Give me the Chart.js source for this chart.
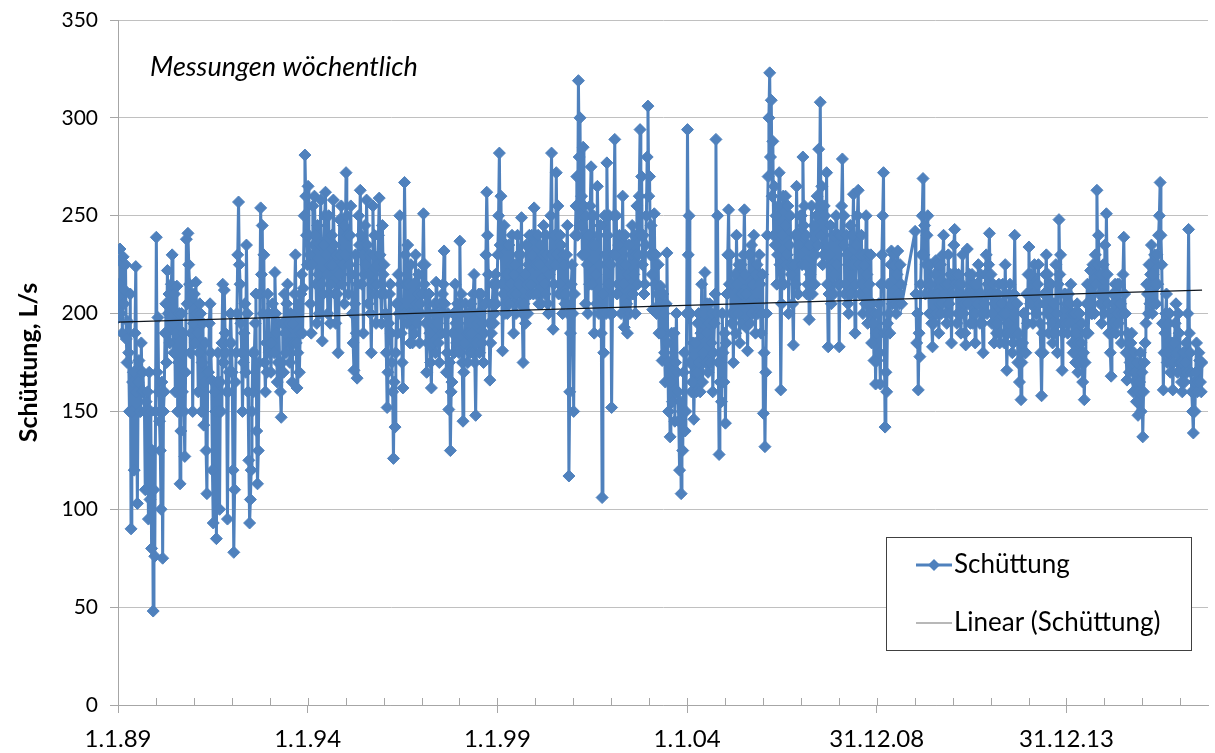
<!DOCTYPE html>
<html>
<head>
<meta charset="utf-8">
<script src="https://cdn.jsdelivr.net/npm/chart.js@4.4.0/dist/chart.umd.min.js"></script>
<style>
  html, body { margin: 0; padding: 0; background: #fff; }
  #wrap { width: 1215px; height: 753px; }
</style>
</head>
<body>
<div id="wrap"><canvas id="myChart" width="1215" height="753"></canvas></div>
<script>
// Schüttung in L/s, one value per week (48 per year)
const firstYear = 1989;
const samplesPerYear = 48;

const flow1989 = [198, 215, 233, 200, 226, 190, 229, 205, 212, 225, 187, 175, 196, 180, 150, 210, 90, 150, 165, 170, 120, 190, 224, 160, 103, 165, 176, 150, 150, 185, 160, 170, 160, 150, 110, 155, 150, 160, 95, 170, 105, 150, 80, 130, 48, 110, 76, 150];
const flow1990 = [239, 170, 198, 160, 145, 130, 100, 165, 75, 150, 160, 190, 205, 175, 222, 200, 210, 185, 198, 215, 230, 195, 180, 210, 160, 190, 214, 150, 175, 200, 113, 140, 200, 160, 190, 150, 127, 170, 238, 205, 241, 225, 215, 180, 190, 210, 150, 195];
const flow1991 = [210, 185, 216, 200, 190, 160, 180, 205, 200, 150, 175, 195, 143, 165, 185, 130, 108, 170, 170, 195, 205, 180, 166, 120, 93, 165, 160, 150, 85, 165, 180, 150, 100, 165, 150, 185, 215, 175, 212, 190, 180, 160, 95, 160, 170, 185, 200, 185];
const flow1992 = [170, 120, 78, 110, 165, 180, 200, 230, 257, 225, 215, 195, 180, 150, 175, 190, 205, 170, 235, 200, 160, 125, 93, 105, 120, 150, 180, 160, 180, 195, 210, 140, 113, 130, 175, 210, 254, 220, 245, 200, 230, 175, 160, 185, 170, 210, 200, 180];
const flow1993 = [185, 170, 185, 205, 200, 180, 221, 200, 190, 165, 175, 195, 175, 160, 147, 175, 195, 170, 210, 190, 180, 205, 215, 185, 195, 175, 200, 185, 165, 195, 185, 210, 230, 185, 162, 180, 205, 170, 190, 210, 220, 190, 213, 250, 281, 260, 240, 225];
const flow1994 = [265, 240, 230, 205, 190, 225, 255, 235, 260, 240, 215, 195, 245, 220, 200, 235, 258, 215, 186, 210, 235, 250, 262, 230, 220, 200, 250, 225, 195, 215, 240, 225, 258, 235, 210, 195, 230, 210, 180, 220, 248, 230, 255, 215, 225, 245, 205, 230];
const flow1995 = [272, 250, 240, 210, 225, 240, 255, 220, 200, 185, 171, 205, 230, 190, 167, 215, 250, 235, 263, 240, 215, 230, 190, 220, 245, 225, 258, 235, 205, 220, 230, 200, 180, 215, 255, 230, 240, 210, 195, 215, 225, 240, 259, 230, 210, 195, 245, 220];
const flow1996 = [225, 210, 200, 180, 152, 170, 195, 210, 215, 190, 175, 160, 126, 165, 142, 180, 205, 190, 220, 200, 250, 215, 190, 175, 162, 200, 267, 230, 215, 195, 235, 215, 200, 185, 225, 200, 185, 215, 210, 190, 230, 205, 195, 210, 220, 185, 205, 200];
const flow1997 = [210, 225, 251, 215, 225, 195, 170, 185, 200, 210, 190, 175, 162, 195, 185, 200, 205, 180, 216, 200, 195, 185, 175, 205, 200, 190, 210, 215, 232, 205, 190, 170, 180, 200, 151, 175, 130, 160, 165, 190, 200, 180, 215, 195, 185, 205, 195, 180];
const flow1998 = [237, 200, 210, 175, 145, 170, 185, 205, 200, 190, 175, 200, 190, 180, 205, 190, 180, 210, 220, 175, 148, 185, 195, 200, 210, 180, 200, 210, 185, 195, 175, 190, 205, 230, 262, 240, 220, 195, 166, 185, 190, 205, 215, 195, 200, 220, 205, 215];
const flow1999 = [230, 250, 282, 235, 260, 215, 181, 210, 245, 200, 220, 235, 200, 220, 235, 205, 215, 225, 240, 210, 190, 220, 225, 200, 210, 240, 230, 215, 205, 230, 249, 200, 175, 205, 220, 195, 235, 215, 200, 225, 240, 210, 215, 240, 230, 210, 254, 225];
const flow2000 = [240, 210, 225, 240, 205, 225, 235, 205, 218, 230, 245, 215, 210, 240, 230, 205, 200, 220, 225, 250, 282, 230, 192, 215, 240, 225, 272, 230, 255, 210, 215, 240, 235, 210, 200, 230, 225, 205, 210, 230, 245, 200, 117, 160, 190, 215, 225, 200];
const flow2001 = [150, 210, 240, 255, 270, 240, 319, 280, 300, 245, 260, 230, 285, 255, 230, 205, 250, 225, 200, 240, 215, 255, 275, 215, 235, 250, 190, 235, 220, 205, 265, 240, 200, 225, 245, 190, 106, 210, 180, 250, 230, 200, 277, 240, 215, 250, 200, 225];
const flow2002 = [152, 200, 230, 250, 289, 230, 250, 210, 215, 235, 240, 215, 200, 225, 260, 215, 193, 240, 225, 205, 190, 220, 235, 200, 210, 230, 245, 210, 220, 240, 200, 230, 255, 215, 230, 260, 294, 240, 270, 225, 240, 210, 215, 235, 250, 280, 306, 260];
const flow2003 = [270, 230, 245, 220, 202, 230, 251, 215, 230, 200, 210, 225, 190, 205, 214, 190, 176, 210, 200, 180, 165, 205, 231, 185, 150, 175, 137, 165, 190, 155, 170, 190, 145, 175, 200, 170, 160, 145, 120, 155, 108, 150, 130, 170, 180, 140, 150, 200];
const flow2004 = [294, 230, 250, 175, 200, 160, 165, 185, 146, 170, 185, 160, 170, 195, 200, 175, 160, 190, 215, 165, 180, 200, 221, 175, 190, 205, 170, 195, 205, 175, 185, 200, 160, 180, 195, 210, 289, 200, 250, 175, 128, 165, 180, 155, 200, 180, 165, 190];
const flow2005 = [144, 185, 210, 230, 253, 215, 230, 200, 195, 215, 175, 200, 220, 190, 240, 215, 200, 225, 185, 210, 225, 195, 210, 230, 253, 220, 193, 210, 181, 205, 230, 195, 215, 235, 200, 215, 240, 205, 190, 220, 225, 200, 205, 230, 215, 190, 200, 220];
const flow2006 = [149, 180, 132, 170, 200, 240, 270, 300, 323, 280, 309, 260, 288, 240, 265, 235, 250, 215, 230, 255, 272, 225, 161, 205, 240, 260, 215, 245, 260, 225, 230, 255, 200, 235, 250, 220, 225, 205, 184, 225, 240, 215, 265, 240, 210, 235, 230, 250];
const flow2007 = [250, 225, 280, 245, 255, 225, 240, 210, 215, 235, 197, 220, 235, 255, 210, 230, 245, 215, 230, 250, 260, 235, 284, 255, 308, 240, 265, 225, 230, 255, 250, 230, 272, 215, 183, 210, 230, 245, 205, 225, 240, 210, 220, 240, 250, 225, 215, 240];
const flow2008 = [183, 215, 240, 255, 279, 235, 250, 210, 215, 240, 230, 205, 200, 225, 245, 210, 225, 240, 261, 225, 190, 215, 235, 250, 263, 225, 210, 230, 240, 215, 200, 230, 225, 205, 250, 220, 195, 230, 215, 200, 230, 185, 205, 195, 176, 200, 164, 190];
const flow2009 = [176, 200, 205, 180, 164, 215, 230, 250, 272, 190, 142, 170, 160, 195, 215, 200, 190, 225, 232, 205, 210, 230, 225, 205, 200, 220, 232, 210, 205, 225, 215, 205,
  null, null, null, null, null, null, null, null, null, null, null, null, null, null, null, null];
const flow2010 = [242, 210, 185, 200, 161, 190, 178, 215, 230, 250, 269, 230, 245, 210, 225, 240, 250, 215, 200, 225, 215, 195, 183, 210, 195, 220, 227, 200, 210, 225, 190, 205, 225, 200, 205, 230, 240, 210, 215, 200, 195, 215, 230, 205, 200, 220, 185, 210];
const flow2011 = [220, 235, 243, 215, 220, 195, 200, 220, 215, 200, 190, 215, 230, 200, 205, 190, 184, 210, 233, 205, 210, 220, 195, 210, 220, 195, 200, 215, 185, 200, 215, 205, 225, 210, 195, 220, 210, 195, 180, 200, 205, 220, 230, 200, 215, 225, 241, 210];
const flow2012 = [220, 195, 200, 215, 185, 205, 210, 190, 195, 210, 215, 185, 190, 205, 205, 215, 200, 185, 225, 200, 171, 190, 195, 210, 215, 190, 205, 180, 185, 210, 240, 200, 190, 205, 175, 190, 165, 185, 156, 175, 185, 200, 200, 180, 180, 210, 195, 220];
const flow2013 = [234, 210, 205, 220, 210, 195, 210, 225, 215, 200, 200, 215, 225, 205, 195, 180, 158, 190, 180, 210, 205, 220, 230, 200, 220, 190, 200, 215, 215, 195, 185, 205, 205, 190, 225, 200, 180, 215, 248, 220, 230, 195, 171, 190, 195, 210, 210, 195];
const flow2014 = [205, 190, 210, 195, 205, 215, 200, 185, 180, 200, 200, 175, 190, 205, 170, 185, 200, 175, 185, 195, 165, 180, 156, 175, 190, 205, 215, 190, 205, 215, 222, 200, 200, 225, 215, 200, 230, 215, 263, 225, 240, 210, 205, 220, 195, 210, 225, 200];
const flow2015 = [235, 210, 251, 220, 205, 190, 200, 180, 168, 190, 210, 195, 205, 215, 190, 200, 215, 195, 215, 205, 205, 185, 200, 220, 239, 210, 200, 180, 166, 190, 185, 170, 175, 185, 190, 175, 160, 180, 170, 165, 155, 175, 148, 160, 165, 180, 150, 170];
const flow2016 = [137, 160, 175, 185, 195, 215, 210, 200, 225, 205, 220, 235, 200, 220, 205, 230, 215, 205, 230, 215, 240, 250, 267, 240, 225, 195, 161, 180, 190, 200, 210, 175, 180, 195, 200, 170, 175, 185, 161, 175, 185, 195, 205, 180, 170, 200, 190, 175];
const flow2017 = [175, 165, 160, 180, 180, 165, 175, 185, 170, 200, 243, 190, 180, 170, 160, 150, 139, 165, 150, 170, 185, 160, 165, 180, 176, 165, 160, 175];

const flowByYear = [
  flow1989, flow1990, flow1991, flow1992, flow1993, flow1994, flow1995, flow1996,
  flow1997, flow1998, flow1999, flow2000, flow2001, flow2002, flow2003, flow2004,
  flow2005, flow2006, flow2007, flow2008, flow2009, flow2010, flow2011, flow2012,
  flow2013, flow2014, flow2015, flow2016, flow2017,
];

// years after 1.1.89 where the axis has a label
const xTickYears = [0, 5, 10, 15, 20, 25];
const xTickLabels = ["1.1.89", "1.1.94", "1.1.99", "1.1.04", "31.12.08", "31.12.13"];

const seriesName = "Schüttung";
const trendName = "Linear (Schüttung)";
const noteText = "Messungen wöchentlich";
const yTitle = "Schüttung, L/s";

const blue = "#4F81BD";
const axisGray = "#a6a6a6";
const gridGray = "#c0c0c0";

function buildPoints() {
  let points = [];
  flowByYear.forEach((values, k) => {
    values.forEach((v, i) => {
      points.push({ x: k + (i + 0.5) / samplesPerYear, y: v });
    });
  });
  return points;
}

// least squares line, like the Excel trendline
function linearFit(points) {
  let valid = points.filter((p) => p.y !== null);
  let n = valid.length, sx = 0, sy = 0, sxx = 0, sxy = 0;
  valid.forEach((p) => {
    sx += p.x; sy += p.y; sxx += p.x * p.x; sxy += p.x * p.y;
  });
  let slope = (n * sxy - sx * sy) / (n * sxx - sx * sx);
  let icpt = (sy - slope * sx) / n;
  let x0 = valid[0].x;
  let x1 = valid[valid.length - 1].x;
  return [{ x: x0, y: icpt + slope * x0 }, { x: x1, y: icpt + slope * x1 }];
}

const extrasPlugin = {
  id: "extras",
  afterDraw(chart) {
    const ctx = chart.ctx;
    const area = chart.chartArea;
    const xScale = chart.scales.x;
    ctx.save();

    // small ticks inside the plot for every year
    ctx.strokeStyle = axisGray;
    ctx.lineWidth = 1;
    for (let yr = 0; yr <= Math.floor(xScale.max); yr++) {
      let px = Math.round(xScale.getPixelForValue(yr)) + 0.5;
      ctx.beginPath();
      ctx.moveTo(px, area.bottom);
      ctx.lineTo(px, area.bottom - 7);
      ctx.stroke();
    }

    // note top left
    ctx.fillStyle = "#000";
    ctx.textBaseline = "middle";
    ctx.font = "italic 27px Lato";
    ctx.fillText(noteText, area.left + 32, area.top + 47);

    // legend box
    let left = area.right - 322;
    let top = area.bottom - 168;
    ctx.fillStyle = "#fff";
    ctx.fillRect(left, top, 305, 113);
    ctx.strokeStyle = "#404040";
    ctx.strokeRect(left + 0.5, top + 0.5, 305, 113);

    let row1 = top + 28;
    let row2 = top + 86;
    ctx.strokeStyle = blue;
    ctx.lineWidth = 3;
    ctx.beginPath();
    ctx.moveTo(left + 30, row1);
    ctx.lineTo(left + 66, row1);
    ctx.stroke();
    ctx.fillStyle = blue;
    ctx.beginPath();
    ctx.moveTo(left + 48, row1 - 6);
    ctx.lineTo(left + 54, row1);
    ctx.lineTo(left + 48, row1 + 6);
    ctx.lineTo(left + 42, row1);
    ctx.closePath();
    ctx.fill();

    ctx.strokeStyle = "#a0a0a0";
    ctx.lineWidth = 1.5;
    ctx.beginPath();
    ctx.moveTo(left + 30, row2);
    ctx.lineTo(left + 66, row2);
    ctx.stroke();

    ctx.fillStyle = "#000";
    ctx.font = "26px Lato";
    ctx.fillText(seriesName, left + 68, row1);
    ctx.fillText(trendName, left + 68, row2);

    ctx.restore();
  },
};

const points = buildPoints();
const trend = linearFit(points);

const chart = new Chart(document.getElementById("myChart"), {
  type: "line",
  data: {
    datasets: [
      {
        label: trendName,
        data: trend,
        borderColor: "#111820",
        borderWidth: 1.2,
        pointRadius: 0,
        order: 0,
      },
      {
        label: seriesName,
        data: points,
        borderColor: blue,
        backgroundColor: blue,
        borderWidth: 3,
        pointStyle: "rectRot",
        pointRadius: 6,
        pointBorderWidth: 1,
        pointHoverRadius: 6,
        spanGaps: true,
        tension: 0,
        order: 1,
      },
    ],
  },
  options: {
    responsive: false,
    animation: false,
    events: [],
    layout: { padding: { top: 20, right: 3, bottom: 0, left: 0 } },
    plugins: {
      legend: { display: false },
      tooltip: { enabled: false },
    },
    scales: {
      x: {
        type: "linear",
        min: 0,
        max: 28.73,
        afterFit: (scale) => { scale.height = 48; },
        ticks: {
          stepSize: 1,
          autoSkip: false,
          maxRotation: 0,
          includeBounds: false,
          padding: 12,
          color: "#000",
          font: { family: "Lato", size: 24 },
          callback: (v) => {
            let idx = xTickYears.indexOf(v);
            return idx >= 0 ? xTickLabels[idx] : "";
          },
        },
        grid: {
          drawOnChartArea: false,
          tickLength: 8,
          tickColor: (c) => (xTickYears.includes(c.tick.value) ? axisGray : "transparent"),
        },
        border: { color: axisGray },
      },
      y: {
        min: 0,
        max: 350,
        afterFit: (scale) => {
          scale.width = 118;
          scale.paddingTop = 0;
          scale.paddingBottom = 0;
        },
        ticks: {
          stepSize: 50,
          padding: 12,
          color: "#000",
          font: { family: "Lato", size: 21 },
        },
        grid: {
          color: gridGray,
          tickColor: axisGray,
          tickLength: 8,
        },
        border: { color: axisGray },
        title: {
          display: true,
          text: yTitle,
          color: "#000",
          font: { family: "Lato", size: 25, weight: "bold" },
          padding: { top: 14, bottom: 0 },
        },
      },
    },
  },
  plugins: [extrasPlugin],
});
</script>
</body>
</html>
